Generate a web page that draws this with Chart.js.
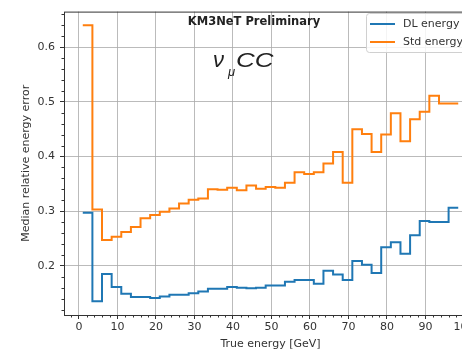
<!DOCTYPE html>
<html>
<head>
<meta charset="utf-8">
<script src="https://cdn.jsdelivr.net/npm/chart.js@4.4.1/dist/chart.umd.min.js"></script>
<style>
  html, body { margin: 0; padding: 0; background: #fff; overflow: hidden; }
  #wrap { width: 462px; height: 351px; overflow: hidden; }
</style>
</head>
<body>
<div id="wrap"><canvas id="chart" width="490" height="351"></canvas></div>
<script>
// left edge of each 2.5 GeV bin (value held until the next edge)
var binEdges = [1, 3.5, 6, 8.5, 11, 13.5, 16, 18.5, 21, 23.5,
  26, 28.5, 31, 33.5, 36, 38.5, 41, 43.5, 46, 48.5,
  51, 53.5, 56, 58.5, 61, 63.5, 66, 68.5, 71, 73.5,
  76, 78.5, 81, 83.5, 86, 88.5, 91, 93.5, 96, 98.5];

var dlEnergy = [0.297, 0.135, 0.185, 0.161, 0.149, 0.143, 0.143, 0.141, 0.144, 0.147,
  0.147, 0.150, 0.153, 0.158, 0.158, 0.161, 0.160, 0.159, 0.160, 0.164,
  0.164, 0.171, 0.174, 0.174, 0.167, 0.191, 0.184, 0.174, 0.209, 0.202,
  0.187, 0.234, 0.243, 0.222, 0.256, 0.282, 0.280, 0.280, 0.306, 0.306];

var stdEnergy = [0.640, 0.303, 0.247, 0.253, 0.262, 0.271, 0.287, 0.293, 0.299, 0.305,
  0.314, 0.321, 0.323, 0.340, 0.339, 0.343, 0.338, 0.347, 0.341, 0.344,
  0.343, 0.352, 0.371, 0.368, 0.371, 0.387, 0.408, 0.352, 0.450, 0.441,
  0.408, 0.440, 0.479, 0.428, 0.468, 0.482, 0.511, 0.497, 0.497, 0.497];

var xTicks = [0, 10, 20, 30, 40, 50, 60, 70, 80, 90, 100];
var yTicks = [0.2, 0.3, 0.4, 0.5, 0.6];

var textColor = '#333';
var gridColor = 'rgba(170,170,170,0.8)';
var tickFont = { family: 'DejaVu Sans', size: 11 };

function toPoints(values) {
  var pts = [];
  for (var i = 0; i < values.length; i++) {
    pts.push({ x: binEdges[i], y: values[i] });
  }
  return pts;
}

// frame, minor ticks, annotations and legend box (matplotlib look)
var boxAndText = {
  id: 'boxAndText',
  afterDraw: function (chart) {
    var ctx = chart.ctx, a = chart.chartArea;
    var xs = chart.scales.x, ys = chart.scales.y;
    var k, v, p;
    ctx.save();

    ctx.strokeStyle = textColor;
    ctx.lineWidth = 1;
    ctx.beginPath();
    for (k = -1; k <= 51; k++) {
      v = k * 2;
      if (v % 10 === 0) continue;
      p = Math.round(xs.getPixelForValue(v)) + 0.5;
      if (p < a.left || p > a.right) continue;
      ctx.moveTo(p, a.bottom);
      ctx.lineTo(p, a.bottom + 2.5);
    }
    for (k = 6; k <= 33; k++) {
      if (k % 5 === 0) continue;
      p = Math.round(ys.getPixelForValue(k * 0.02)) + 0.5;
      ctx.moveTo(a.left, p);
      ctx.lineTo(a.left - 2.5, p);
    }
    ctx.stroke();

    ctx.strokeRect(a.left + 0.5, a.top + 0.5, a.right - a.left, a.bottom - a.top);

    ctx.fillStyle = '#222';
    ctx.textAlign = 'center';
    ctx.textBaseline = 'middle';
    ctx.font = 'bold 11.5px "DejaVu Sans"';
    ctx.fillText('KM3NeT Preliminary', 254, 22);

    ctx.textAlign = 'left';
    ctx.textBaseline = 'alphabetic';
    ctx.font = 'italic 22px "Liberation Sans"';
    ctx.fillText('\u03bd', 213, 67);
    ctx.font = 'italic 13px "Liberation Sans"';
    ctx.fillText('\u03bc', 228, 76);
    ctx.save();
    ctx.translate(236, 67);
    ctx.scale(1.3, 1);
    ctx.font = 'italic 20px "Liberation Sans"';
    ctx.fillText('CC', 0, 0);
    ctx.restore();

    // legend
    var lx = 366, ly = 13, lw = 110, lh = 39;
    ctx.beginPath();
    ctx.roundRect(lx + 0.5, ly + 0.5, lw, lh, 3);
    ctx.fillStyle = 'rgba(255,255,255,0.85)';
    ctx.fill();
    ctx.strokeStyle = '#d0d0d0';
    ctx.stroke();
    ctx.font = '11px "DejaVu Sans"';
    ctx.textBaseline = 'middle';
    chart.data.datasets.forEach(function (ds, i) {
      var y = ly + 11 + i * 18;
      ctx.strokeStyle = ds.borderColor;
      ctx.lineWidth = 2;
      ctx.beginPath();
      ctx.moveTo(lx + 4, y);
      ctx.lineTo(lx + 29, y);
      ctx.stroke();
      ctx.fillStyle = textColor;
      ctx.fillText(ds.label, lx + 37, y);
    });
    ctx.restore();
  }
};

new Chart(document.getElementById('chart'), {
  type: 'line',
  data: {
    datasets: [
      { label: 'DL energy', data: toPoints(dlEnergy), borderColor: '#1f77b4', borderWidth: 2,
        stepped: 'before', pointRadius: 0, fill: false },
      { label: 'Std energy', data: toPoints(stdEnergy), borderColor: '#ff7f0e', borderWidth: 2,
        stepped: 'before', pointRadius: 0, fill: false }
    ]
  },
  options: {
    responsive: false,
    animation: false,
    devicePixelRatio: 1,
    layout: { padding: { top: 10, right: 13, left: 0, bottom: 0 } },
    plugins: { legend: { display: false }, tooltip: { enabled: false } },
    scales: {
      x: {
        type: 'linear', min: -3.875, max: 103.375,
        afterBuildTicks: function (s) { s.ticks = xTicks.map(function (v) { return { value: v }; }); },
        afterFit: function (s) { s.height = 36; },
        ticks: { autoSkip: false, maxRotation: 0, padding: 2, color: textColor, font: tickFont,
          callback: function (v) { return String(v); } },
        grid: { color: gridColor, lineWidth: 1, tickLength: 4, tickColor: textColor, tickWidth: 1 },
        border: { display: false },
        title: { display: true, text: 'True energy [GeV]', color: textColor, font: tickFont,
          padding: { top: 0, bottom: 0 } }
      },
      y: {
        type: 'linear', min: 0.11, max: 0.665,
        afterBuildTicks: function (s) { s.ticks = yTicks.map(function (v) { return { value: v }; }); },
        afterFit: function (s) { s.width = 64; },
        ticks: { autoSkip: false, padding: 5, color: textColor, font: tickFont,
          callback: function (v) { return v.toFixed(1); } },
        grid: { color: gridColor, lineWidth: 1, tickLength: 4, tickColor: textColor, tickWidth: 1 },
        border: { display: false },
        title: { display: true, text: 'Median relative energy error', color: textColor, font: tickFont,
          padding: { top: 20, bottom: 0 } }
      }
    }
  },
  plugins: [boxAndText]
});
</script>
</body>
</html>
